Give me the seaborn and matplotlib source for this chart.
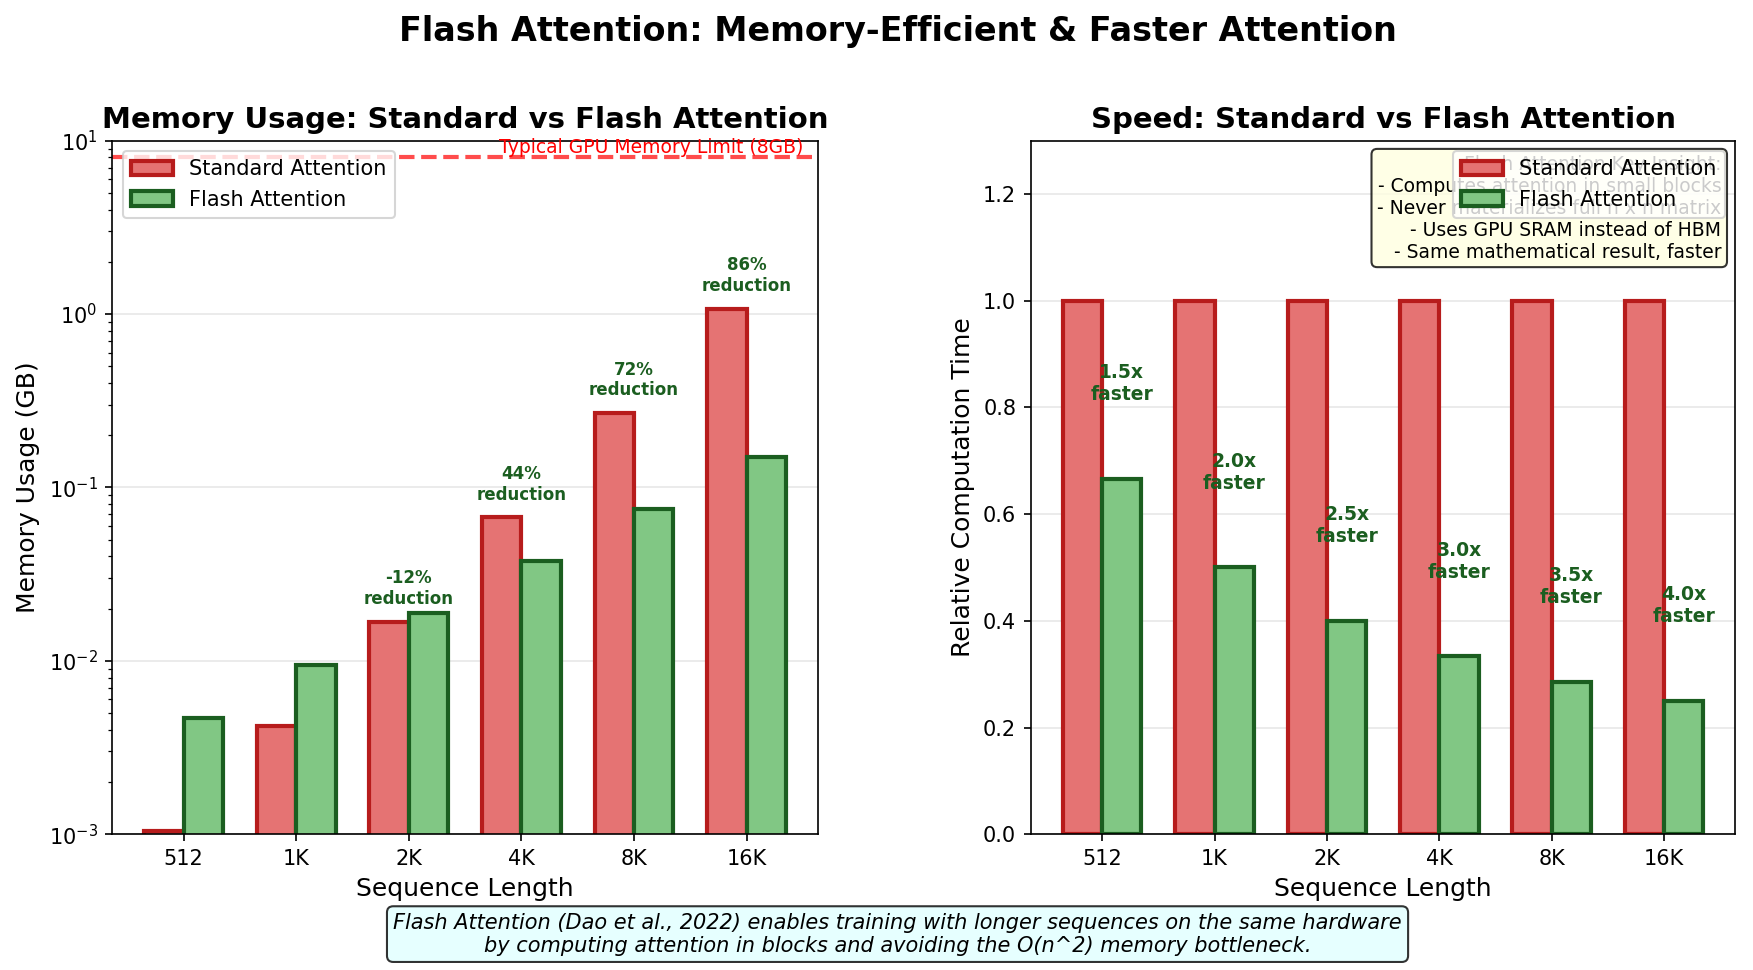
import numpy as np
import pandas as pd
import matplotlib
matplotlib.use("Agg")
import matplotlib.pyplot as plt
import seaborn as sns

# Data
seq_labels = ["512", "1K", "2K", "4K", "8K", "16K"]
standard_mem = [0.00105, 0.0042, 0.0168, 0.0671, 0.2684, 1.0737]   # GB
flash_mem = [0.0047, 0.0094, 0.0188, 0.0375, 0.075, 0.15]          # GB
standard_time = [1.0, 1.0, 1.0, 1.0, 1.0, 1.0]
speedups = [1.5, 2.0, 2.5, 3.0, 3.5, 4.0]
flash_time = [1 / s for s in speedups]
annotate_reduction = [False, False, True, True, True, True]
series_names = ["Standard Attention", "Flash Attention"]

fill_colors = ["#e57373", "#81c784"]
edge_colors = ["#b71c1c", "#1b5e20"]
text_green = "#1b5e20"

mem_df = pd.DataFrame({
    "seq": seq_labels * 2,
    "value": standard_mem + flash_mem,
    "method": [series_names[0]] * 6 + [series_names[1]] * 6,
})
time_df = pd.DataFrame({
    "seq": seq_labels * 2,
    "value": standard_time + flash_time,
    "method": [series_names[0]] * 6 + [series_names[1]] * 6,
})

fig = plt.figure(figsize=(1753 / 150, 970 / 150), dpi=150)
ax1 = fig.add_axes([0.064, 0.14, 0.4027, 0.715])
ax2 = fig.add_axes([0.588, 0.14, 0.402, 0.715])


def style_bars(ax):
    for cont, ec in zip(ax.containers, edge_colors):
        plt.setp(cont.patches, edgecolor=ec, linewidth=2)
    return list(ax.containers)


# ---- Memory panel ----
ax1.set_yscale("log")
sns.barplot(data=mem_df, x="seq", y="value", hue="method", order=seq_labels,
            hue_order=series_names, palette=fill_colors, saturation=1,
            width=0.7, legend=False, ax=ax1)
handles = style_bars(ax1)
ax1.set_ylim(1e-3, 10)
ax1.set_xlim(-0.635, 5.635)
ax1.axhline(8, color="red", linestyle="--", linewidth=2, alpha=0.7)
ax1.text(5.5, 8, "Typical GPU Memory Limit (8GB)", color="red", fontsize=9,
         ha="right", va="bottom")
for i in range(len(seq_labels)):
    if annotate_reduction[i]:
        red = (1 - flash_mem[i] / standard_mem[i]) * 100
        ax1.text(i, standard_mem[i] * 1.2, f"{red:.0f}%\nreduction", ha="center",
                 va="bottom", fontsize=8, fontweight="bold", color=text_green)
ax1.set_xlabel("Sequence Length", fontsize=12)
ax1.set_ylabel("Memory Usage (GB)", fontsize=12)
ax1.set_title("Memory Usage: Standard vs Flash Attention", fontsize=14, fontweight="bold")
ax1.legend(handles, series_names, loc="upper left", fontsize=10)
ax1.grid(axis="y", alpha=0.3)
ax1.set_axisbelow(True)

# ---- Speed panel ----
sns.barplot(data=time_df, x="seq", y="value", hue="method", order=seq_labels,
            hue_order=series_names, palette=fill_colors, saturation=1,
            width=0.7, legend=False, ax=ax2)
handles2 = style_bars(ax2)
ax2.set_ylim(0, 1.3)
ax2.set_xlim(-0.635, 5.635)
for i, s in enumerate(speedups):
    ax2.text(i + 0.175, flash_time[i] + 0.14, f"{s:.1f}x\nfaster", ha="center",
             va="bottom", fontsize=9, fontweight="bold", color=text_green)
ax2.set_xlabel("Sequence Length", fontsize=12)
ax2.set_ylabel("Relative Computation Time", fontsize=12)
ax2.set_title("Speed: Standard vs Flash Attention", fontsize=14, fontweight="bold")
ax2.legend(handles2, series_names, loc="upper right", fontsize=10)
ax2.grid(axis="y", alpha=0.3)
ax2.set_axisbelow(True)

insight = ("Flash Attention Key Insight:\n"
           "- Computes attention in small blocks\n"
           "- Never materializes full n x n matrix\n"
           "- Uses GPU SRAM instead of HBM\n"
           "- Same mathematical result, faster")
ax2.text(0.98, 0.98, insight, transform=ax2.transAxes, ha="right", va="top",
         fontsize=9, bbox=dict(boxstyle="round", facecolor="lightyellow", alpha=0.8))

fig.suptitle("Flash Attention: Memory-Efficient & Faster Attention",
             fontsize=16, fontweight="bold", x=0.512, y=0.985)
fig.text(0.512, 0.037,
         "Flash Attention (Dao et al., 2022) enables training with longer sequences on the same hardware\n"
         "by computing attention in blocks and avoiding the O(n^2) memory bottleneck.",
         ha="center", va="center", fontsize=10, style="italic",
         bbox=dict(boxstyle="round", facecolor="lightcyan", alpha=0.8))

fig.savefig("out.png", dpi=150)
